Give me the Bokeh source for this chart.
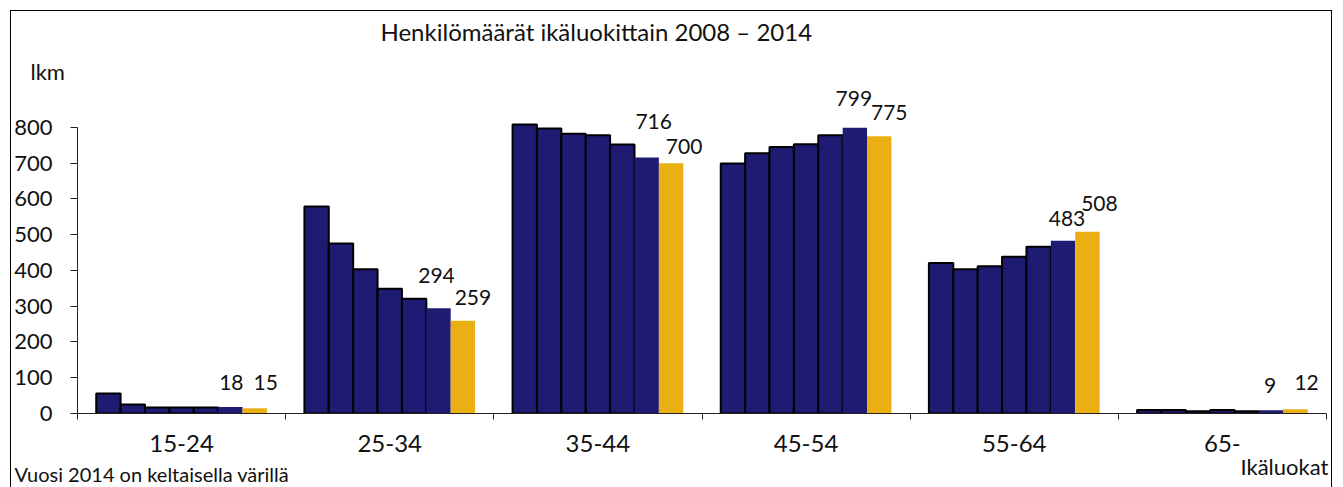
from bokeh.plotting import figure
from bokeh.models import Range1d, FixedTicker, Title, ColumnDataSource
from bokeh.embed import file_html
from bokeh.resources import INLINE
from bokeh.core.properties import value

# ---------------- data ----------------
age_groups = ["15-24", "25-34", "35-44", "45-54", "55-64", "65-"]
years = [2008, 2009, 2010, 2011, 2012, 2013, 2014]
v2008 = [56, 579, 808, 699, 421, 10]
v2009 = [25, 475, 797, 728, 403, 10]
v2010 = [17, 403, 782, 745, 412, 6]
v2011 = [17, 349, 778, 753, 438, 10]
v2012 = [17, 321, 752, 778, 466, 6]
v2013 = [18, 294, 716, 799, 483, 9]
v2014 = [15, 259, 700, 775, 508, 12]
y_ticks = [0, 100, 200, 300, 400, 500, 600, 700, 800]

series = [v2008, v2009, v2010, v2011, v2012, v2013, v2014]

# ---------------- style ----------------
NAVY = "#1F1B72"
GOLD = "#E9AF13"
FONT = "Lato"
GAP = 0.09
BW = (1 - 2 * GAP) / len(years)

# label offsets (px) for value labels of 2013 and 2014
dy13 = [25, 33, 36, 29, 22, 25]
dx13 = [1, -2, 7, -1, 4, -1]
dy14 = [26, 23, 17, 24, 28, 27]
dx14 = [11, 10, 13, 10, 12, 11]

p = figure(width=1322, height=477, output_backend="svg", toolbar_location=None,
           title_location=None,
           x_range=Range1d(0, len(age_groups)), y_range=Range1d(0, 911.5),
           min_border_left=67, min_border_right=6, min_border_top=0, min_border_bottom=74)
p.margin = (10, 0, 0, 10)
p.styles = {"box-shadow": "inset 1px 1px 0 0 #000, inset -1px 0 0 0 #000"}
p.border_fill_color = None
p.background_fill_color = None
p.outline_line_color = None
p.grid.visible = False

for i, (yr, vals) in enumerate(zip(years, series)):
    xs = [g + GAP + (i + 0.5) * BW for g in range(len(age_groups))]
    src = ColumnDataSource(dict(x=xs, top=vals))
    if i < 5:
        p.vbar(x="x", top="top", width=BW, bottom=0, source=src,
               fill_color=NAVY, line_color="black", line_width=2)
    elif i == 5:
        p.vbar(x="x", top="top", width=BW, bottom=0, source=src,
               fill_color=NAVY, line_color=None)
    else:
        p.vbar(x="x", top="top", width=BW, bottom=0, source=src,
               fill_color=GOLD, line_color=None)

# value labels for 2013 and 2014
for i, vals, dx, dy in [(5, v2013, dx13, dy13), (6, v2014, dx14, dy14)]:
    xs = [g + GAP + (i + 0.5) * BW for g in range(len(age_groups))]
    src = ColumnDataSource(dict(x=xs, y=vals, t=[str(v) for v in vals],
                                dx=dx, dy=[-d for d in dy]))
    p.text(x="x", y="y", text="t", source=src, x_offset="dx", y_offset="dy",
           text_align="center", text_baseline="middle",
           text_font=value(FONT), text_font_size="21px", text_color="#111111")

# y axis
ya = p.yaxis[0]
ya.ticker = FixedTicker(ticks=y_ticks)
ya.bounds = (0, 800)
ya.major_tick_in = 0
ya.major_tick_out = 7
ya.minor_tick_line_color = None
ya.major_label_standoff = 18
ya.major_label_text_font = FONT
ya.major_label_text_font_size = "22px"
ya.major_label_text_color = "#111111"
ya.axis_line_color = "#222222"
ya.major_tick_line_color = "#222222"

# x axis
xa = p.xaxis[0]
xa.ticker = FixedTicker(ticks=[g + 0.5 for g in range(len(age_groups))],
                        minor_ticks=list(range(len(age_groups) + 1)))
xa.major_label_overrides = {g + 0.5: name for g, name in enumerate(age_groups)}
xa.bounds = (0, len(age_groups))
xa.major_tick_line_color = None
xa.major_tick_in = 0
xa.major_tick_out = 0
xa.minor_tick_in = 0
xa.minor_tick_out = 6
xa.minor_tick_line_color = "#222222"
xa.axis_line_color = "#222222"
xa.major_label_standoff = 15
xa.major_label_text_font = FONT
xa.major_label_text_font_size = "24px"
xa.major_label_text_color = "#111111"

# texts outside the frame (titles are not clipped)
p.add_layout(Title(text="lkm", align="left", offset=-47, standoff=5,
                   text_font=FONT, text_font_size="22px", text_font_style="normal",
                   text_color="#111111"), "above")
p.add_layout(Title(text="Henkilömäärät ikäluokittain 2008 – 2014", align="left",
                   offset=303, standoff=12, vertical_align="top",
                   text_font=FONT, text_font_size="24px", text_font_style="normal",
                   text_color="#111111"), "above")
p.add_layout(Title(text="Ikäluokat", align="left", offset=1163, standoff=-7,
                   text_font=FONT, text_font_size="22px", text_font_style="normal",
                   text_color="#111111"), "below")
p.add_layout(Title(text="Vuosi 2014 on keltaisella värillä", align="left", offset=-63,
                   standoff=-30, vertical_align="top",
                   text_font=FONT, text_font_size="20px", text_font_style="normal",
                   text_color="#111111"), "below")

open("out.html", "w").write(file_html(p, INLINE))
